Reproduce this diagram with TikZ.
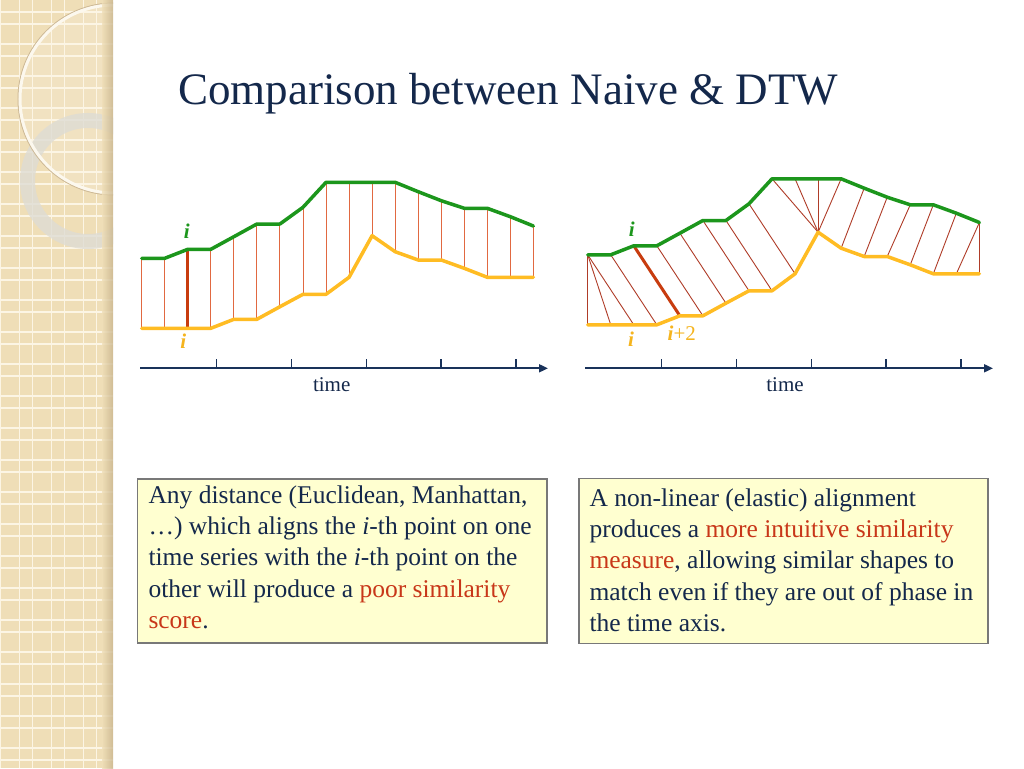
\documentclass[tikz,border=0pt]{standalone}
\usepackage{fontspec}
\setmainfont{Liberation Serif}
\usetikzlibrary{arrows.meta}
\definecolor{navy}{RGB}{20,40,75}
\definecolor{axisnavy}{RGB}{25,50,90}
\definecolor{tgreen}{RGB}{28,150,28}
\definecolor{tyellow}{RGB}{255,188,35}
\definecolor{lblyellow}{RGB}{245,180,30}
\definecolor{naivered}{RGB}{225,105,65}
\definecolor{dtwred}{RGB}{175,60,40}
\definecolor{hired}{RGB}{200,60,15}
\definecolor{boxfill}{RGB}{255,255,208}
\definecolor{boxline}{RGB}{120,120,120}
\definecolor{textred}{RGB}{200,55,25}
\definecolor{sidebar}{RGB}{239,222,183}
\definecolor{sidegrid}{RGB}{252,245,228}
\definecolor{sideshadow}{RGB}{200,180,140}
\definecolor{ringgrey}{RGB}{222,220,212}
\definecolor{ringwhite}{RGB}{252,248,238}
\definecolor{ringtan}{RGB}{205,185,150}
\tikzset{
  series/.style={line width=3.5pt, line join=round, line cap=round},
  greenline/.style={series, draw=tgreen},
  yellowline/.style={series, draw=tyellow},
  naivelink/.style={draw=naivered, line width=0.9pt},
  dtwlink/.style={draw=dtwred, line width=0.9pt},
  hilink/.style={draw=hired, line width=3pt},
  timeaxis/.style={draw=axisnavy, line width=1.8pt, -{Triangle[length=9pt,width=8pt]}},
  tickmark/.style={draw=axisnavy, line width=1.3pt},
  axislabel/.style={font=\fontsize{21}{25}\selectfont, text=navy, inner sep=0pt, anchor=base},
  glabel/.style={font=\fontsize{21}{25}\selectfont\bfseries\itshape, text=tgreen, inner sep=0pt, anchor=base},
  ylabel/.style={font=\fontsize{21}{25}\selectfont\bfseries\itshape, text=lblyellow, inner sep=0pt, anchor=base},
  notebox/.style={draw=boxline, fill=boxfill, line width=1.3pt, inner sep=0pt, anchor=north west},
  notetext/.style={font=\fontsize{25.5}{31.3}\selectfont, text=navy, align=left, inner sep=0pt, anchor=base west},
  titletext/.style={font=\fontsize{45}{54}\selectfont, text=navy, inner sep=0pt, anchor=base west}
}
\begin{document}
\begin{tikzpicture}[x=1pt,y=-1pt]
\useasboundingbox (0,0) rectangle (1024,768);
\fill[white] (0,0) rectangle (1024,768);

% ---- sidebar ----
\begin{scope}
  \clip (0,0) rectangle (113,768);
  \fill[sidebar] (0,0) rectangle (113,768);
  \fill[white, opacity=0.15] (114,99) circle (94);
  \foreach \gx in {0.5,19.5,32.5,51.5,64.5,83.5,96.5}
    \draw[sidegrid, line width=1.2pt] (\gx,0) -- (\gx,768);
  \foreach \k in {0,...,24} {
    \draw[sidegrid, line width=1.2pt] (0,{12+32*\k}) -- (113,{12+32*\k});
    \draw[sidegrid, line width=1.2pt] (0,{24+32*\k}) -- (113,{24+32*\k});
  }
  \draw[ringgrey, opacity=0.8, line width=15pt] (88,181) circle (60.5);
  \draw[ringtan, line width=1pt] (114,99) circle (96);
  \draw[ringwhite, line width=3pt] (114,99) circle (94);
  \shade[left color=sidebar, right color=sideshadow, opacity=0.8] (102,0) rectangle (113,768);
\end{scope}

% ---- title ----
\node[titletext] (title) at (178,104) {Comparison between Naive \& DTW};

% ---- data points ----
\foreach \gy [count=\n from 0] in {258.3,258.3,249.3,249.3,236.7,224,224,207.3,182.3,182.3,182.3,182.3,191.7,200.7,208.3,208.3,216.7,226} {
  \coordinate (Lg\n) at ({141.7+23.04*\n},\gy);
  \coordinate (Rg\n) at ({587.7+23.04*\n},{\gy-3.5});
}
\foreach \yy [count=\n from 0] in {328.3,328.3,328.3,328.3,319.3,319.3,306.7,294.3,294.3,277.3,235.7,251.7,260,260,268.3,277.3,277.3,277.3} {
  \coordinate (Ly\n) at ({141.7+23.04*\n},\yy);
  \coordinate (Ry\n) at ({587.7+23.04*\n},{\yy-3.5});
}

% ---- left chart: naive alignment ----
\foreach \n in {0,1,3,4,...,17}
  \draw[naivelink] (Lg\n) -- (Ly\n);
\draw[hilink] (Lg2) -- (Ly2);
\draw[yellowline] (Ly0) \foreach \n in {1,...,17} { -- (Ly\n) };
\draw[greenline] (Lg0) \foreach \n in {1,...,17} { -- (Lg\n) };

% ---- right chart: DTW alignment ----
\foreach \a/\b in {0/0,0/1,0/2,1/3,3/5,4/6,5/7,6/8,7/9,8/10,9/10,10/10,11/10,12/11,13/12,14/13,15/14,16/15,17/16,17/17}
  \draw[dtwlink] (Rg\a) -- (Ry\b);
\draw[hilink] (Rg2) -- (Ry4);
\draw[yellowline] (Ry0) \foreach \n in {1,...,17} { -- (Ry\n) };
\draw[greenline] (Rg0) \foreach \n in {1,...,17} { -- (Rg\n) };

% ---- labels on charts ----
\node[glabel] (Lgi) at (186.7,238) {i};
\node[ylabel] (Lyi) at (183.3,348) {i};
\node[glabel] (Rgi) at (631.7,236.5) {i};
\node[ylabel] (Ryi) at (631,346.5) {i};
\node[ylabel, anchor=base west] (Ryi2) at (667.5,340.5) {i\textup{\mdseries +2}};

% ---- time axes ----
\coordinate (Lax0) at (140,368.3);
\coordinate (Lax1) at (548,368.3);
\draw[timeaxis] (Lax0) -- (Lax1);
\foreach \t in {216.7,291.3,366.3,441,516}
  \draw[tickmark] (\t,359) -- (\t,368.3);
\node[axislabel] (Ltime) at (331.7,391.5) {time};

\coordinate (Rax0) at (585,368.3);
\coordinate (Rax1) at (993,368.3);
\draw[timeaxis] (Rax0) -- (Rax1);
\foreach \t in {661.7,736.3,811.3,886,961}
  \draw[tickmark] (\t,359) -- (\t,368.3);
\node[axislabel] (Rtime) at (785,391.5) {time};

% ---- note boxes ----
\node[notebox, minimum width=409.5pt, minimum height=164pt] (leftbox) at (136.9,478.4) {};
\node[notetext] (lefttext) at (148.3,628.3) {Any distance (Euclidean, Manhattan,\\
…) which aligns the \textit{i}-th point on one\\
time series with the \textit{i}-th point on the\\
other will produce a \textcolor{textred}{poor similarity}\\
\textcolor{textred}{score}.};

\node[notebox, minimum width=409pt, minimum height=165.5pt] (rightbox) at (578.4,477.6) {};
\node[notetext] (righttext) at (589.3,631.5) {A non-linear (elastic) alignment\\
produces a \textcolor{textred}{more intuitive similarity}\\
\textcolor{textred}{measure}, allowing similar shapes to\\
match even if they are out of phase in\\
the time axis.};
\end{tikzpicture}
\end{document}
